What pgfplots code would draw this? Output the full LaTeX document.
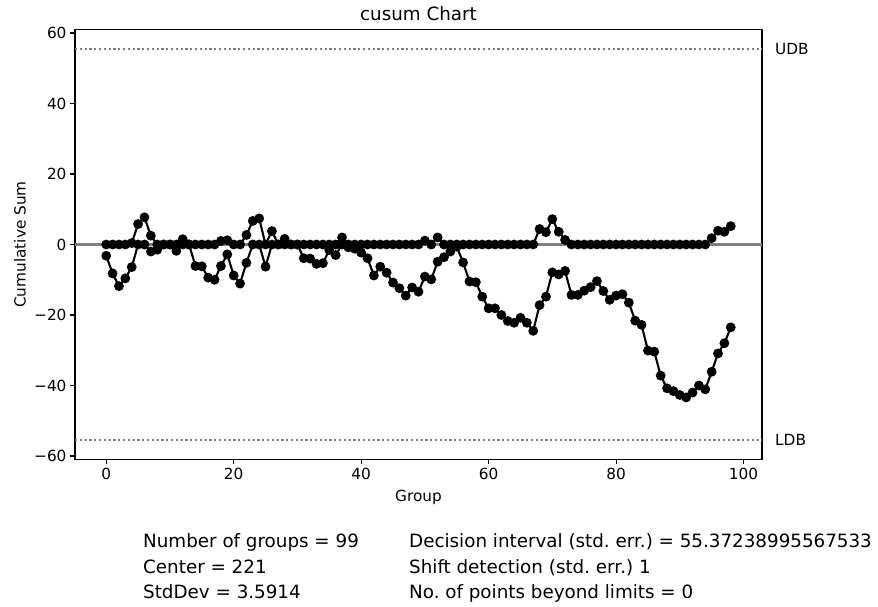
\documentclass[border=0pt]{standalone}
\usepackage{fontspec}
\setmainfont{DejaVu Sans}
\usepackage{pgfplots}
\usepackage{pgfplotstable}
\pgfplotsset{compat=1.18}
\frenchspacing

% upper and lower cumulative sums per group
\pgfplotstableread{
g upper lower
0 0 -3.2
1 0 -8.2
2 0 -11.8
3 0 -9.6
4 0.4 -6.4
5 5.8 0
6 7.7 0
7 2.5 -2.0
8 0 -1.5
9 0 0
10 0 0
11 0 -1.8
12 1.5 0
13 0 0
14 0 -6.1
15 0 -6.2
16 0 -9.4
17 0 -10.0
18 1.0 -6.1
19 1.2 -2.8
20 0 -8.8
21 0 -11.1
22 2.7 -5.2
23 6.7 0
24 7.4 0
25 0 -6.3
26 3.8 0
27 0 0
28 1.6 0
29 0 0
30 0 0
31 0 -3.9
32 0 -4.0
33 0 -5.5
34 0 -5.3
35 0 -1.6
36 0 -3.0
37 2.0 0
38 0 -0.8
39 0 -1.2
40 0 -2.3
41 0 -3.9
42 0 -8.8
43 0 -6.3
44 0 -8.0
45 0 -10.8
46 0 -12.4
47 0 -14.5
48 0 -12.2
49 0 -13.4
50 1.1 -9.1
51 0 -9.9
52 2.0 -4.9
53 0 -3.6
54 0 -2.0
55 0 -0.6
56 0 -5.1
57 0 -10.5
58 0 -10.7
59 0 -14.8
60 0 -18.1
61 0 -18.1
62 0 -20.0
63 0 -21.7
64 0 -22.2
65 0 -20.8
66 0 -22.2
67 0 -24.5
68 4.4 -17.2
69 3.5 -14.8
70 7.2 -7.9
71 3.6 -8.5
72 1.3 -7.5
73 0 -14.3
74 0 -14.3
75 0 -13.1
76 0 -12.1
77 0 -10.4
78 0 -13.2
79 0 -15.7
80 0 -14.5
81 0 -14.1
82 0 -16.5
83 0 -21.6
84 0 -22.8
85 0 -30.1
86 0 -30.4
87 0 -37.2
88 0 -40.8
89 0 -41.6
90 0 -42.7
91 0 -43.4
92 0 -42.0
93 0 -40.0
94 0 -41.1
95 1.8 -36.1
96 3.9 -30.9
97 3.6 -28.0
98 5.2 -23.5
}\cusumdata

\newcommand{\tickfont}{\fontsize{15.3bp}{18bp}\selectfont}
\newcommand{\bigfont}{\fontsize{18.3bp}{22bp}\selectfont}

\begin{document}
\begin{tikzpicture}
\path[use as bounding box] (0,0) rectangle (878bp,607bp);
\begin{axis}[
  at={(75bp,147.8bp)}, anchor=south west,
  width=687bp, height=429.4bp, scale only axis,
  xmin=-4.9, xmax=102.9, ymin=-60.91, ymax=60.91,
  xtick={0,20,40,60,80,100},
  ytick={-60,-40,-20,0,20,40,60},
  yticklabels={−60,−40,−20,0,20,40,60},
  xticklabels={0,20,40,60,80,100},
  tick align=outside, xtick pos=bottom, ytick pos=left,
  major tick length=5bp,
  tick style={black, line width=1.1bp},
  axis line style={line width=1.1bp},
  ticklabel style={font=\tickfont},
  xlabel={Group}, ylabel={Cumulative Sum},
  xlabel style={font=\tickfont, at={(axis description cs:0.5,-0.088)}, anchor=center},
  ylabel style={font=\tickfont, at={(axis description cs:-0.0801,0.5)}, anchor=center},
  clip=false,
]
% center line and decision boundaries
\addplot[color=gray, line width=2.2bp] coordinates {(-4.9,0) (102.9,0)};
\addplot[color=gray, line width=2.2bp, dash pattern=on 2.2bp off 2.6bp] coordinates {(-4.9,55.37) (102.9,55.37)};
\addplot[color=gray, line width=2.2bp, dash pattern=on 2.2bp off 2.6bp] coordinates {(-4.9,-55.37) (102.9,-55.37)};
% cusum series
\addplot[black, line width=2.1bp, mark=*, mark size=3.8bp, mark options={solid, fill=black}] table[x=g, y=upper] {\cusumdata};
\addplot[black, line width=2.1bp, mark=*, mark size=3.8bp, mark options={solid, fill=black}] table[x=g, y=lower] {\cusumdata};
\node[anchor=west, inner sep=0pt, font=\tickfont] at ([xshift=13bp]axis cs:102.9,55.37) {UDB};
\node[anchor=west, inner sep=0pt, font=\tickfont] at ([xshift=13bp]axis cs:102.9,-55.37) {LDB};
\node[anchor=center, inner sep=0pt, font=\bigfont] at ([yshift=15.8bp]axis description cs:0.5,1) {cusum Chart};
\end{axis}
% summary statistics
\node[anchor=base west, inner sep=0pt, font=\bigfont] at (143bp,59bp) {Number of groups = 99};
\node[anchor=base west, inner sep=0pt, font=\bigfont] at (143bp,34bp) {Center = 221};
\node[anchor=base west, inner sep=0pt, font=\bigfont] at (143bp,9bp) {StdDev = 3.5914};
\node[anchor=base west, inner sep=0pt, font=\bigfont] at (409bp,59bp) {Decision interval (std. err.) = 55.37238995567533};
\node[anchor=base west, inner sep=0pt, font=\bigfont] at (409bp,34bp) {Shift detection (std. err.) 1};
\node[anchor=base west, inner sep=0pt, font=\bigfont] at (409bp,9bp) {No. of points beyond limits = 0};
\end{tikzpicture}
\end{document}
